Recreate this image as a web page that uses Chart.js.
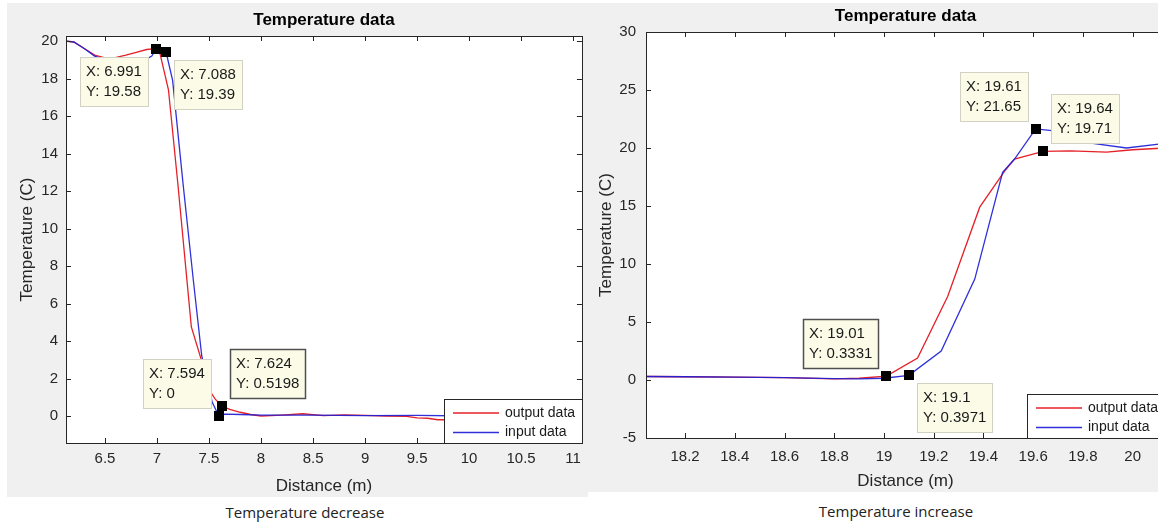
<!DOCTYPE html>
<html>
<head>
<title>Temperature data</title>
<script src="https://cdn.jsdelivr.net/npm/chart.js"></script>
<style>
  body { margin: 0; width: 1158px; height: 522px; overflow: hidden; background: #fff; position: relative; }
  .panel { position: absolute; background: #f0f0f0; }
  #leftBox { left: 7px; top: 3px; width: 581px; height: 494px; }
  #rightBox { left: 588px; top: 3px; width: 590px; height: 489px; }
  .caption { position: absolute; width: 240px; text-align: center; font-family: "Open Sans", sans-serif; font-size: 15px; line-height: 22px; color: #222; }
</style>
</head>
<body>
<div class="panel" id="leftBox"><canvas id="leftChart" width="581" height="494"></canvas></div>
<div class="panel" id="rightBox"><canvas id="rightChart" width="590" height="489"></canvas></div>
<div class="caption" style="left:185px; top:501px;">Temperature decrease</div>
<div class="caption" style="left:776px; top:500px;">Temperature increase</div>
<script>
// ---- data ----
const seriesNames = ['output data', 'input data'];
const titleText = 'Temperature data';
const xTitle = 'Distance (m)';
const yTitle = 'Temperature (C)';

// left plot: temperature decrease
const leftOutX = [6.125, 6.2, 6.3, 6.4, 6.5, 6.6, 6.7, 6.8, 6.9, 6.991, 7.03, 7.11, 7.2, 7.33, 7.42, 7.5, 7.56, 7.624, 7.7, 7.8, 7.9, 8.0, 8.2, 8.4, 8.6, 8.8, 9.0, 9.2, 9.4, 9.5, 9.6, 9.7, 9.8, 9.9, 10.0, 10.5, 11.085];
const leftOutY = [20.0, 19.95, 19.6, 19.25, 19.1, 19.12, 19.25, 19.4, 19.55, 19.6, 19.3, 17.4, 12.4, 4.75, 3.1, 1.4, 0.9, 0.5198, 0.35, 0.2, 0.08, 0.0, 0.05, 0.12, 0.02, 0.06, 0.03, 0.0, -0.02, -0.1, -0.12, -0.2, -0.2, -0.1, 0.0, 0.0, 0.0];
const leftInX = [6.125, 6.2, 6.3, 6.4, 6.5, 6.6, 6.7, 6.8, 6.9, 6.95, 6.991, 7.088, 7.15, 7.25, 7.35, 7.43, 7.53, 7.594, 7.65, 7.8, 8.0, 8.5, 9.0, 9.5, 10.0, 11.085];
const leftInY = [20.0, 19.95, 19.6, 19.2, 19.0, 18.9, 18.85, 18.9, 19.05, 19.2, 19.58, 19.39, 17.9, 12.4, 7.2, 3.2, 0.75, 0.0, 0.1, 0.08, 0.05, 0.05, 0.02, 0.03, 0.0, 0.0];
const leftXTicks = [6.5, 7, 7.5, 8, 8.5, 9, 9.5, 10, 10.5, 11];
const leftYTicks = [0, 2, 4, 6, 8, 10, 12, 14, 16, 18, 20];
const leftTips = [[6.991, 19.58], [7.088, 19.39], [7.594, 0], [7.624, 0.5198]];

// right plot: temperature increase
const rightOutX = [18.043, 18.2, 18.4, 18.6, 18.8, 18.9, 19.01, 19.135, 19.256, 19.385, 19.485, 19.525, 19.64, 19.75, 19.895, 20.0, 20.13];
const rightOutY = [0.3, 0.28, 0.25, 0.2, 0.1, 0.15, 0.3331, 1.9, 7.2, 14.9, 18.0, 19.05, 19.71, 19.75, 19.65, 19.85, 20.0];
const rightInX = [18.043, 18.2, 18.4, 18.6, 18.8, 18.9, 19.0, 19.1, 19.23, 19.365, 19.477, 19.525, 19.61, 19.675, 19.75, 19.84, 19.975, 20.13];
const rightInY = [0.3, 0.28, 0.25, 0.2, 0.12, 0.1, 0.15, 0.3971, 2.5, 8.7, 17.9, 19.05, 21.65, 21.5, 21.3, 20.4, 20.0, 20.4];
const rightXTicks = [18.2, 18.4, 18.6, 18.8, 19, 19.2, 19.4, 19.6, 19.8, 20];
const rightYTicks = [-5, 0, 5, 10, 15, 20, 25, 30];
const rightTips = [[19.01, 0.3331], [19.1, 0.3971], [19.61, 21.65], [19.64, 19.71]];

// ---- styling ----
const FONT = '"Liberation Sans", Arial, sans-serif';
const RED = 'rgb(228, 32, 40)';
const BLUE = 'rgba(30, 30, 215, 0.92)';
const AXIS = '#262626';
Chart.defaults.font.family = FONT;

const pts = (xs, ys) => xs.map((x, i) => ({ x: x, y: ys[i] }));

// draws the matlab style box, inward ticks, legend and data tips
function matlabPlugin(tips, places, selected) {
  return {
    id: 'matlabAxes',
    beforeDatasetsDraw(chart) {
      const a = chart.chartArea, ctx = chart.ctx;
      ctx.save();
      ctx.fillStyle = '#fff';
      ctx.fillRect(a.left, a.top, a.right - a.left, a.bottom - a.top);
      ctx.restore();
    },
    afterDatasetsDraw(chart) {
      const a = chart.chartArea, ctx = chart.ctx;
      const xs = chart.scales.x, ys = chart.scales.y;
      ctx.save();
      ctx.strokeStyle = AXIS;
      ctx.lineWidth = 1;
      ctx.strokeRect(Math.round(a.left) + 0.5, Math.round(a.top) + 0.5, Math.round(a.right - a.left), Math.round(a.bottom - a.top));
      ctx.beginPath();
      xs.ticks.forEach(t => {
        const p = Math.round(xs.getPixelForValue(t.value)) + 0.5;
        ctx.moveTo(p, a.bottom); ctx.lineTo(p, a.bottom - 5);
        ctx.moveTo(p, a.top); ctx.lineTo(p, a.top + 5);
      });
      ys.ticks.forEach(t => {
        const p = Math.round(ys.getPixelForValue(t.value)) + 0.5;
        ctx.moveTo(a.left, p); ctx.lineTo(a.left + 5, p);
        ctx.moveTo(a.right, p); ctx.lineTo(a.right - 5, p);
      });
      ctx.stroke();

      // legend, bottom right corner
      const lw = 138, lh = 44;
      const lx = Math.round(a.right) - lw, ly = Math.round(a.bottom) - lh;
      ctx.fillStyle = '#fff';
      ctx.fillRect(lx, ly, lw, lh);
      ctx.strokeRect(lx + 0.5, ly + 0.5, lw, lh);
      ctx.font = '14px ' + FONT;
      ctx.textBaseline = 'middle';
      chart.data.datasets.forEach((ds, i) => {
        const yy = ly + 14 + i * 19.5;
        ctx.strokeStyle = ds.borderColor;
        ctx.lineWidth = 1.3;
        ctx.beginPath(); ctx.moveTo(lx + 9, yy); ctx.lineTo(lx + 55, yy); ctx.stroke();
        ctx.fillStyle = '#1a1a1a';
        ctx.fillText(ds.label, lx + 61, yy);
      });

      // data tips
      ctx.font = '15px ' + FONT;
      const marks = [];
      tips.forEach((tp, i) => {
        const mx = xs.getPixelForValue(tp[0]);
        const my = ys.getPixelForValue(tp[1]);
        marks.push([mx, my]);
        const lines = ['X: ' + tp[0], 'Y: ' + tp[1]];
        const w = Math.round(Math.max(...lines.map(s => ctx.measureText(s).width)) + 12);
        const h = 49, gap = 8;
        const bx = Math.round(places[i][1] === 'r' ? mx + gap : mx - gap - w);
        const by = Math.round(places[i][0] === 'd' ? my + gap : my - gap - h);
        ctx.fillStyle = '#fbfbe7';
        ctx.fillRect(bx, by, w, h);
        const sel = selected.includes(i);
        ctx.strokeStyle = sel ? '#505050' : '#d2d2c4';
        ctx.lineWidth = sel ? 1.5 : 1;
        ctx.strokeRect(bx + 0.5, by + 0.5, w, h);
        ctx.fillStyle = '#1a1a1a';
        ctx.textBaseline = 'middle';
        ctx.fillText(lines[0], bx + 6, by + 14.5);
        ctx.fillText(lines[1], bx + 6, by + 34.5);
      });
      ctx.fillStyle = '#000';
      marks.forEach(m => ctx.fillRect(Math.round(m[0] - 5), Math.round(m[1] - 5), 10, 10));
      ctx.restore();
    }
  };
}

function makeChart(id, d) {
  return new Chart(document.getElementById(id), {
    type: 'line',
    data: {
      datasets: [
        { label: seriesNames[0], data: pts(d.outX, d.outY), borderColor: RED, borderWidth: 1.3, pointRadius: 0, tension: 0, order: 1 },
        { label: seriesNames[1], data: pts(d.inX, d.inY), borderColor: BLUE, borderWidth: 1.3, pointRadius: 0, tension: 0, order: 0 }
      ]
    },
    options: {
      responsive: false,
      animation: false,
      events: [],
      layout: { padding: { left: 0, right: d.padRight, top: 0, bottom: 0 } },
      plugins: {
        legend: { display: false },
        tooltip: { enabled: false },
        title: {
          display: true, text: titleText, fullSize: false, color: '#000',
          font: { size: 17, weight: 'bold', lineHeight: 1.2 },
          padding: { top: d.titleTop, bottom: 5.6 }
        }
      },
      scales: {
        x: {
          type: 'linear', min: d.xMin, max: d.xMax,
          grid: { display: false, drawTicks: false }, border: { display: false },
          afterBuildTicks: s => { s.ticks = d.xTicks.map(v => ({ value: v })); },
          afterFit: s => { s.height = 54; },
          ticks: { padding: d.xTickPad, autoSkip: false, maxRotation: 0, color: AXIS, font: { size: 15 }, callback: v => String(v) },
          title: { display: true, text: xTitle, color: AXIS, font: { size: 17 }, padding: { top: 0, bottom: d.xTitlePad } }
        },
        y: {
          type: 'linear', min: d.yMin, max: d.yMax,
          grid: { display: false, drawTicks: false }, border: { display: false },
          afterBuildTicks: s => { s.ticks = d.yTicks.map(v => ({ value: v })); },
          afterFit: s => { s.width = d.yWidth; },
          ticks: { padding: d.yTickPad, autoSkip: false, color: AXIS, font: { size: 15 }, callback: v => String(v) },
          title: { display: true, text: yTitle, color: AXIS, font: { size: 17 }, padding: { top: d.yTitlePad, bottom: 0 } }
        }
      }
    },
    plugins: [matlabPlugin(d.tips, d.places, d.selected)]
  });
}

makeChart('leftChart', {
  outX: leftOutX, outY: leftOutY, inX: leftInX, inY: leftInY,
  xTicks: leftXTicks, yTicks: leftYTicks, tips: leftTips,
  places: ['dl', 'dr', 'ul', 'ur'], selected: [3],
  xMin: 6.125, xMax: 11.085, yMin: -1.44, yMax: 20.27,
  padRight: 6, titleTop: 7, yWidth: 59, yTickPad: 8, yTitlePad: 9.8, xTickPad: 7, xTitlePad: 0.8
});

makeChart('rightChart', {
  outX: rightOutX, outY: rightOutY, inX: rightInX, inY: rightInY,
  xTicks: rightXTicks, yTicks: rightYTicks, tips: rightTips,
  places: ['ul', 'dr', 'ul', 'ur'], selected: [0],
  xMin: 18.043, xMax: 20.13, yMin: -5, yMax: 30,
  padRight: 13, titleTop: 3, yWidth: 58, yTickPad: 10, yTitlePad: 7.8, xTickPad: 10, xTitlePad: 0
});
</script>
</body>
</html>
